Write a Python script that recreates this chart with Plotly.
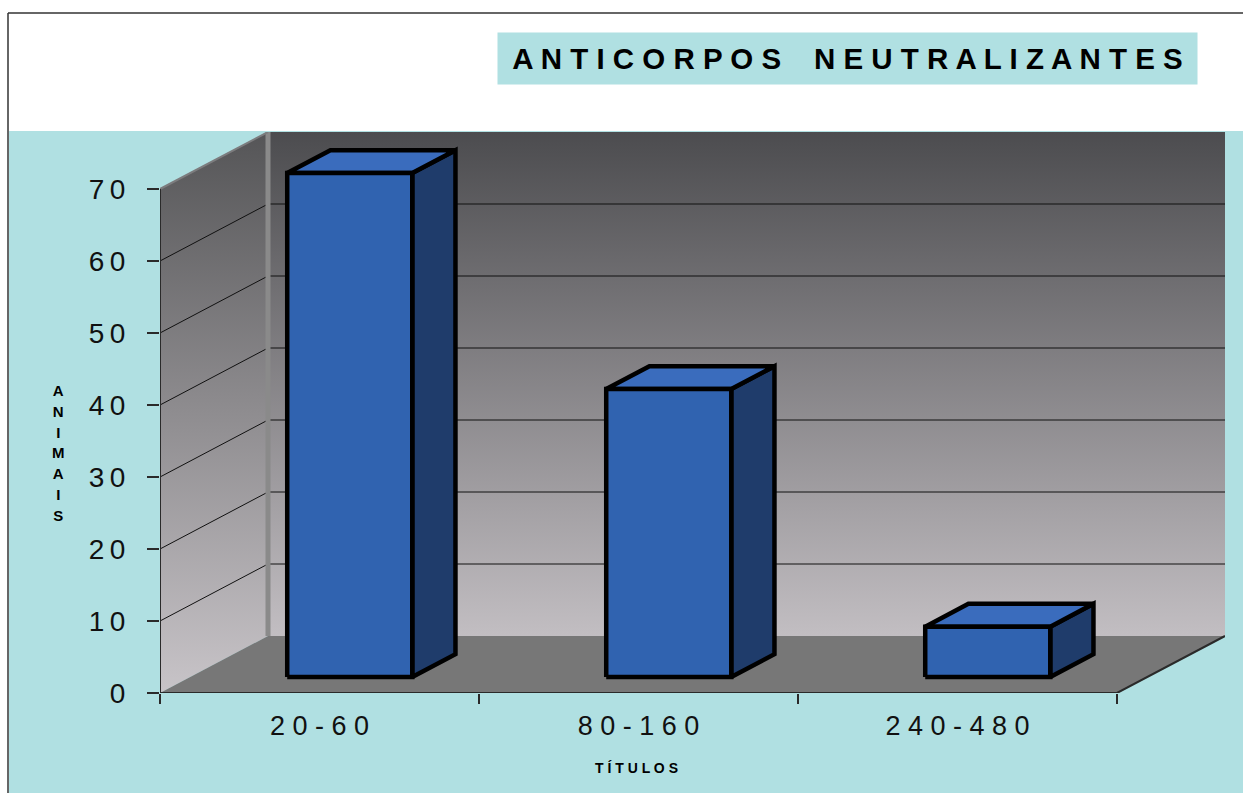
import plotly.graph_objects as go

# ---------------- data ----------------
categories = ["20-60", "80-160", "240-480"]
animais = [70, 40, 7]
y_ticks = [0, 10, 20, 30, 40, 50, 60, 70]
title_text = "ANTICORPOS NEUTRALIZANTES"
x_title = "TÍTULOS"
y_title = "ANIMAIS"

# ---------------- geometry (3-D projection in axis units) ----------------
PX_PER_CAT = 319.0
PX_PER_VAL = 7.2
DEPTH_PX = (108.0, 57.0)
DX = DEPTH_PX[0] / PX_PER_CAT
DY = DEPTH_PX[1] / PX_PER_VAL
YMAX = 70
NCAT = len(categories)
D_FRONT, D_BACK = 0.28, 0.68
HALF_W = 0.196


def P(x, v, d):
    return x + d * DX, v + d * DY


def poly(points):
    xs = [p[0] for p in points] + [points[0][0]]
    ys = [p[1] for p in points] + [points[0][1]]
    return xs, ys


W, H = 1243, 793
ML, MR, MT, MB = 160, 18, 132, 100
plot_w = W - ML - MR
plot_h = H - MT - MB


def px2paper_x(px):
    return (px - ML) / plot_w


def px2paper_y(py):
    return (H - MB - py) / plot_h


FONT = "Liberation Sans, Arial, sans-serif"
CYAN = "#b0e0e2"

fig = go.Figure()

# side wall
xs, ys = poly([P(0, 0, 0), P(0, YMAX, 0), P(0, YMAX, 1), P(0, 0, 1)])
fig.add_trace(go.Scatter(x=xs, y=ys, mode="lines", fill="toself",
                         line=dict(width=0, color="rgba(0,0,0,0)"),
                         fillgradient=dict(type="vertical",
                                           colorscale=[[0, "#c8c4c8"], [1, "#555557"]]),
                         hoverinfo="skip", showlegend=False))
# back wall
xs, ys = poly([P(0, 0, 1), P(NCAT, 0, 1), P(NCAT, YMAX, 1), P(0, YMAX, 1)])
fig.add_trace(go.Scatter(x=xs, y=ys, mode="lines", fill="toself",
                         line=dict(width=0, color="rgba(0,0,0,0)"),
                         fillgradient=dict(type="vertical",
                                           colorscale=[[0, "#c2bec2"], [1, "#4c4c4f"]]),
                         hoverinfo="skip", showlegend=False))
# floor
xs, ys = poly([P(0, 0, 0), P(NCAT, 0, 0), P(NCAT, 0, 1), P(0, 0, 1)])
fig.add_trace(go.Scatter(x=xs, y=ys, mode="lines", fill="toself", fillcolor="#777777",
                         line=dict(width=0, color="rgba(0,0,0,0)"),
                         hoverinfo="skip", showlegend=False))

# gridlines (side wall diagonals + back wall horizontals)
gx, gy = [], []
for v in y_ticks:
    if v == 0 or v == YMAX:
        continue
    a, b, c = P(0, v, 0), P(0, v, 1), P(NCAT, v, 1)
    gx += [a[0], b[0], c[0], None]
    gy += [a[1], b[1], c[1], None]
fig.add_trace(go.Scatter(x=gx, y=gy, mode="lines", line=dict(color="#111111", width=1),
                         hoverinfo="skip", showlegend=False))

# wall corner edge and side-wall top edge
a, b = P(0, 0, 1), P(0, YMAX, 1)
fig.add_trace(go.Scatter(x=[a[0], b[0]], y=[a[1], b[1]], mode="lines",
                         line=dict(color="#8a8a8a", width=5),
                         hoverinfo="skip", showlegend=False))
a, b = P(0, YMAX, 0), P(0, YMAX, 1)
fig.add_trace(go.Scatter(x=[a[0], b[0]], y=[a[1], b[1]], mode="lines",
                         line=dict(color="#7c7c7e", width=2),
                         hoverinfo="skip", showlegend=False))

# floor outline (front edge + right edge) and y axis line
a, b, c = P(0, 0, 0), P(NCAT, 0, 0), P(NCAT, 0, 1)
fig.add_trace(go.Scatter(x=[a[0], b[0], c[0]], y=[a[1], b[1], c[1]], mode="lines",
                         line=dict(color="#2a2a2a", width=2),
                         hoverinfo="skip", showlegend=False))
fig.add_trace(go.Scatter(x=[0, 0], y=[0, YMAX], mode="lines",
                         line=dict(color="#2a2a2a", width=2),
                         hoverinfo="skip", showlegend=False))

# bars
FRONT, TOP, SIDE = "#3063b0", "#3a6cbd", "#1f3c6b"
for i, v in enumerate(animais):
    xc = i + 0.5
    xl, xr = xc - HALF_W, xc + HALF_W
    faces = [
        ([P(xr, 0, D_FRONT), P(xr, 0, D_BACK), P(xr, v, D_BACK), P(xr, v, D_FRONT)], SIDE),
        ([P(xl, v, D_FRONT), P(xr, v, D_FRONT), P(xr, v, D_BACK), P(xl, v, D_BACK)], TOP),
        ([P(xl, 0, D_FRONT), P(xr, 0, D_FRONT), P(xr, v, D_FRONT), P(xl, v, D_FRONT)], FRONT),
    ]
    for pts, col in faces:
        xs, ys = poly(pts)
        fig.add_trace(go.Scatter(x=xs, y=ys, mode="lines", fill="toself", fillcolor=col,
                                 line=dict(color="#000000", width=4.5),
                                 hoverinfo="skip", showlegend=False))


def spaced(s, sep=" "):
    return sep.join(list(s))


fig.update_layout(
    width=W, height=H, autosize=False,
    margin=dict(l=ML, r=MR, t=MT, b=MB, pad=0),
    paper_bgcolor="#ffffff", plot_bgcolor="rgba(0,0,0,0)",
    font=dict(family=FONT, color="#111111"),
    showlegend=False,
    xaxis=dict(range=[0, NCAT + DX], showgrid=False, zeroline=False, showline=False,
               tickmode="array", tickvals=[i + 0.5 for i in range(NCAT)],
               ticktext=[spaced(c) for c in categories], ticks="",
               tickfont=dict(size=27, family=FONT, color="#111111"),
               ticklabelstandoff=14,
               minor=dict(tickmode="array", tickvals=list(range(NCAT + 1)), ticks="outside",
                          ticklen=10, tickwidth=2, tickcolor="#2a2a2a", showgrid=False),
               fixedrange=True),
    yaxis=dict(range=[0, YMAX + DY], showgrid=False, zeroline=False, showline=False,
               tickmode="array", tickvals=y_ticks,
               ticktext=[spaced(str(t), "\u2009") for t in y_ticks],
               ticks="outside", ticklen=12, tickwidth=2, tickcolor="#2a2a2a",
               tickfont=dict(size=28, family=FONT, color="#111111"),
               ticklabelstandoff=16,
               fixedrange=True),
)

# background (cyan panel) and frame
fig.add_shape(type="rect", xref="paper", yref="paper", layer="below",
              x0=px2paper_x(9), x1=px2paper_x(W + 5), y0=px2paper_y(H + 5), y1=px2paper_y(131),
              fillcolor=CYAN, line=dict(width=0))
fig.add_shape(type="line", xref="paper", yref="paper", layer="below",
              x0=px2paper_x(8), x1=px2paper_x(W + 5), y0=px2paper_y(13), y1=px2paper_y(13),
              line=dict(color="#333333", width=1.5))
fig.add_shape(type="line", xref="paper", yref="paper", layer="below",
              x0=px2paper_x(8), x1=px2paper_x(8), y0=px2paper_y(13), y1=px2paper_y(H + 5),
              line=dict(color="#333333", width=1.5))

# title box
words = title_text.split(" ")
title_disp = "\u00a0\u00a0\u00a0 ".join(spaced(w) for w in words)
fig.add_annotation(xref="paper", yref="paper", x=px2paper_x(847.5), y=px2paper_y(58.5),
                   xanchor="center", yanchor="middle", showarrow=False,
                   text=title_disp, bgcolor=CYAN, width=699, height=51, borderpad=0,
                   font=dict(family=FONT, size=29.5, color="#000000", weight="bold"))

# y axis title (stacked letters)
ytxt = "<br>".join(f"<span style='font-size:15px'>{c}</span>" for c in y_title)
fig.add_annotation(xref="paper", yref="paper", x=px2paper_x(58), y=px2paper_y(453),
                   xanchor="center", yanchor="middle", showarrow=False, text=ytxt,
                   font=dict(family=FONT, size=16, color="#000000", weight="bold"))

# x axis title
fig.add_annotation(xref="paper", yref="paper", x=px2paper_x(636), y=px2paper_y(768),
                   xanchor="center", yanchor="middle", showarrow=False, text=spaced(x_title),
                   font=dict(family=FONT, size=14, color="#000000", weight="bold"))

fig.write_html("out.html")
